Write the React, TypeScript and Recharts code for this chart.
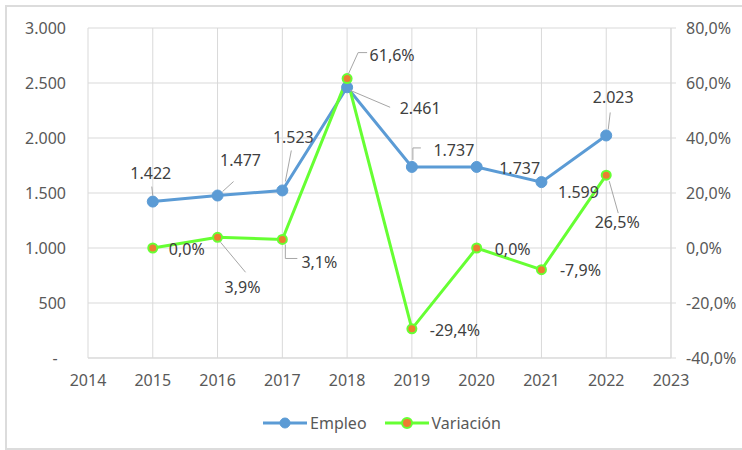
import React from 'react';
import { LineChart, Line, XAxis, YAxis, CartesianGrid, Legend, LabelList } from 'recharts';

const years = [2015, 2016, 2017, 2018, 2019, 2020, 2021, 2022];
const empleo = [1422, 1477, 1523, 2461, 1737, 1737, 1599, 2023];
const variacion = [0.0, 3.9, 3.1, 61.6, -29.4, 0.0, -7.9, 26.5];
const xTicks = [2014, 2015, 2016, 2017, 2018, 2019, 2020, 2021, 2022, 2023];
const leftTicks = [0, 500, 1000, 1500, 2000, 2500, 3000];
const rightTicks = [-40, -20, 0, 20, 40, 60, 80];

// label centre offset from the point + optional leader line (relative points)
type Pos = [number, number, number[][]?];
const empleoLabelPos: Pos[] = [
  [-2, -29, [[0, -6], [-1, -15]]],
  [23, -36, [[5, -4], [16, -14]]],
  [11, -53, [[3, -9], [9, -40]]],
  [73, 21, [[3, 3], [43, 20]]],
  [42, -17, [[1, -7], [1, -19], [9, -19]]],
  [43, 1],
  [37, 10],
  [7, -38, [[2, -6], [4, -23]]],
];
const variacionLabelPos: Pos[] = [
  [34, 1],
  [25, 50, [[3, 5], [28, 35]]],
  [37, 23, [[3, 5], [3, 19], [15, 19]]],
  [45, -24, [[1, -4], [11, -26], [20, -26]]],
  [43, 1],
  [36, 1],
  [39, 0],
  [11, 47, [[3, 6], [12, 38]]],
];

const data = years.map((y, i) => ({ year: y, empleo: empleo[i], variacion: variacion[i] }));

const FONT = "'Noto Sans', sans-serif";
const BLUE = '#5B9BD5';
const GREEN = '#66FF33';
const ORANGE = '#ED7D31';

const fmtMiles = (v: number) => (v === 0 ? '-\u00a0\u00a0' : String(v).replace(/\B(?=(\d{3})+(?!\d))/g, '.'));
const fmtPct = (v: number) => `${v.toFixed(1).replace('.', ',')}%`;

const makeLabel = (pos: Pos[], fmt: (v: number) => string) => (props: any) => {
  const x = props.x ?? props.viewBox?.x;
  const y = props.y ?? props.viewBox?.y;
  const p = pos[props.index];
  if (!p || x == null || y == null) return null;
  const [dx, dy, leader] = p;
  return (
    <g>
      {leader && (
        <polyline
          points={leader.map(([a, b]) => `${x + a},${y + b}`).join(' ')}
          fill="none"
          stroke="#a6a6a6"
          strokeWidth={1}
        />
      )}
      <text
        x={x + dx}
        y={y + dy}
        textAnchor="middle"
        dominantBaseline="central"
        fontFamily={FONT}
        fontSize={16}
        fill="#404040"
      >
        {fmt(props.value)}
      </text>
    </g>
  );
};

const renderLegend = () => {
  const items = [
    { name: 'Empleo', stroke: BLUE, fill: BLUE },
    { name: 'Variación', stroke: GREEN, fill: ORANGE },
  ];
  return (
    <div style={{ display: 'flex', justifyContent: 'center', gap: 18, paddingLeft: 22, fontFamily: FONT, fontSize: 16, color: '#595959' }}>
      {items.map((it) => (
        <div key={it.name} style={{ display: 'flex', alignItems: 'center' }}>
          <svg width={44} height={14} style={{ marginRight: 3 }}>
            <line x1={0} y1={7} x2={44} y2={7} stroke={it.stroke} strokeWidth={3} />
            <circle cx={22} cy={7} r={5} fill={it.fill} stroke={it.stroke} strokeWidth={it.name === 'Empleo' ? 1 : 2} />
          </svg>
          <span>{it.name}</span>
        </div>
      ))}
    </div>
  );
};

export default function App() {
  return (
    <div style={{ position: 'absolute', left: 0, top: 0, width: 742, height: 450, background: '#fff' }}>
      <div
        style={{
          position: 'absolute',
          left: 5,
          top: 5,
          width: 745,
          height: 441,
          border: '2px solid #dcdcdc',
        }}
      />
      <LineChart
        width={742}
        height={450}
        data={data}
        margin={{ top: 28, right: 0, left: 0, bottom: 62 }}
        style={{ position: 'absolute', left: 0, top: 0 }}
      >
        <CartesianGrid stroke="#d9d9d9" yAxisId="left" />
        <XAxis
          dataKey="year"
          type="number"
          domain={[2014, 2023]}
          ticks={xTicks}
          height={30}
          tickLine={false}
          tickSize={0}
          tickMargin={17}
          axisLine={{ stroke: '#d9d9d9' }}
          tick={{ fill: '#595959', fontSize: 16, fontFamily: FONT }}
        />
        <YAxis
          yAxisId="left"
          domain={[0, 3000]}
          ticks={leftTicks}
          width={88}
          tickLine={false}
          axisLine={false}
          tickSize={0}
          tickMargin={22}
          tickFormatter={fmtMiles}
          tick={{ fill: '#595959', fontSize: 16, fontFamily: FONT }}
        />
        <YAxis
          yAxisId="right"
          orientation="right"
          domain={[-40, 80]}
          ticks={rightTicks}
          width={71}
          tickLine={{ stroke: '#d9d9d9' }}
          axisLine={{ stroke: '#d9d9d9' }}
          tickSize={5}
          tickMargin={10}
          tickFormatter={fmtPct}
          tick={{ fill: '#595959', fontSize: 16, fontFamily: FONT }}
        />
        <Legend
          verticalAlign="middle"
          align="center"
          layout="horizontal"
          content={renderLegend}
          wrapperStyle={{ top: 412, left: 0, width: 742 }}
        />
        <Line
          yAxisId="left"
          dataKey="empleo"
          name="Empleo"
          stroke={BLUE}
          strokeWidth={3}
          dot={{ r: 5.5, fill: BLUE, stroke: BLUE, strokeWidth: 1 }}
          isAnimationActive={false}
        >
          <LabelList dataKey="empleo" content={makeLabel(empleoLabelPos, fmtMiles)} />
        </Line>
        <Line
          yAxisId="right"
          dataKey="variacion"
          name="Variación"
          stroke={GREEN}
          strokeWidth={3}
          dot={{ r: 4.5, fill: ORANGE, stroke: GREEN, strokeWidth: 2 }}
          isAnimationActive={false}
        >
          <LabelList dataKey="variacion" content={makeLabel(variacionLabelPos, fmtPct)} />
        </Line>
      </LineChart>
    </div>
  );
}
